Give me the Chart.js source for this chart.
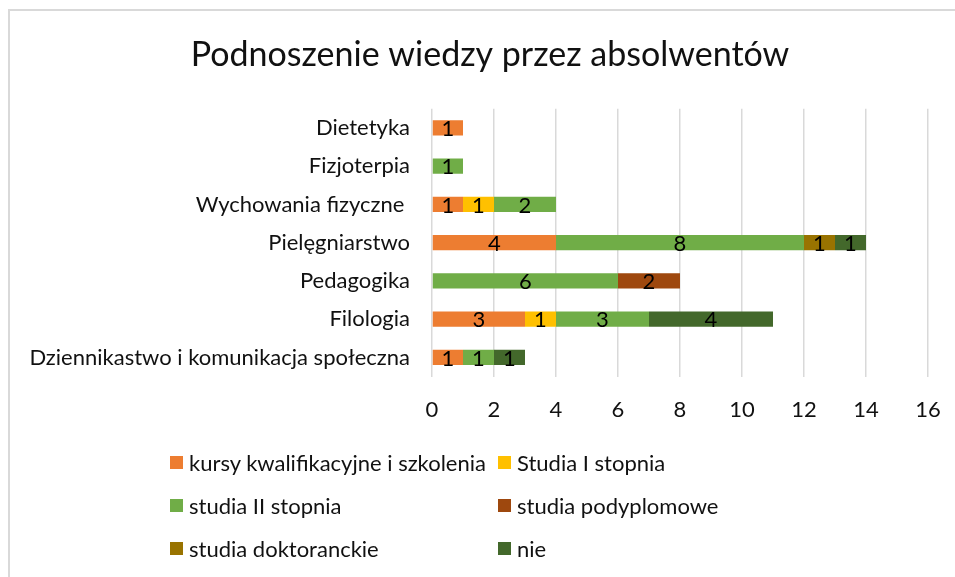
<!DOCTYPE html>
<html>
<head>
<meta charset="utf-8">
<script src="https://cdn.jsdelivr.net/npm/chart.js@4"></script>
<style>
  body { margin: 0; background: #fff; font-family: Lato, sans-serif; }
  #wrap { position: relative; width: 955px; height: 577px; }
  #frame { position: absolute; left: 8px; top: 9px; width: 960px; height: 580px;
           border-left: 2px solid #d9d9d9; border-top: 2px solid #d9d9d9; }
  #legend { position: absolute; left: 170px; top: 450px; width: 700px;
            display: grid; grid-template-columns: 328px auto; row-gap: 19px; }
  .item { display: flex; align-items: center; font-size: 22px; color: #111; height: 24px; white-space: nowrap; }
  .box { width: 13px; height: 13px; margin-right: 6px; }
</style>
</head>
<body>
<div id="wrap">
  <div id="frame"></div>
  <canvas id="chart" width="955" height="577"></canvas>
  <div id="legend"></div>
</div>
<script>
const kierunki = [
  "Dietetyka",
  "Fizjoterpia",
  "Wychowania fizyczne ",
  "Pielęgniarstwo",
  "Pedagogika",
  "Filologia",
  "Dziennikastwo i komunikacja społeczna"
];
const kursy = [1, 0, 1, 4, 0, 3, 1];
const studiaI = [0, 0, 1, 0, 0, 1, 0];
const studiaII = [0, 1, 2, 8, 6, 3, 1];
const podyplomowe = [0, 0, 0, 0, 2, 0, 0];
const doktoranckie = [0, 0, 0, 1, 0, 0, 0];
const nie = [0, 0, 0, 1, 0, 4, 1];
const serie = ["kursy kwalifikacyjne i szkolenia", "Studia I stopnia", "studia II stopnia",
  "studia podyplomowe", "studia doktoranckie", "nie"];
const kolory = ["#ED7D31", "#FFC000", "#70AD47", "#9E480E", "#997300", "#43682B"];
const wartosci = [kursy, studiaI, studiaII, podyplomowe, doktoranckie, nie];

// etykiety w środku słupków
const etykiety = {
  id: "etykiety",
  afterDatasetsDraw(chart) {
    const ctx = chart.ctx;
    ctx.save();
    ctx.font = "22px Lato, sans-serif";
    ctx.fillStyle = "#000";
    ctx.textAlign = "center";
    ctx.textBaseline = "middle";
    chart.data.datasets.forEach((ds, i) => {
      chart.getDatasetMeta(i).data.forEach((bar, j) => {
        const v = ds.data[j];
        if (!v) return;
        const p = bar.getCenterPoint();
        ctx.fillText(v, p.x, p.y + 1);
      });
    });
    ctx.restore();
  }
};

new Chart(document.getElementById("chart"), {
  type: "bar",
  data: {
    labels: kierunki,
    datasets: serie.map((s, i) => ({
      label: s,
      data: wartosci[i],
      backgroundColor: kolory[i],
      barPercentage: 0.4,
      categoryPercentage: 1
    }))
  },
  options: {
    indexAxis: "y",
    responsive: false,
    animation: false,
    layout: { padding: { left: 30, right: 5, top: 8, bottom: 134 } },
    plugins: {
      legend: { display: false },
      tooltip: { enabled: false },
      title: {
        display: true,
        text: "Podnoszenie wiedzy przez absolwentów",
        color: "#111",
        font: { family: "Lato", size: 34, weight: "normal" },
        padding: { top: 27, bottom: 33 }
      }
    },
    scales: {
      x: {
        stacked: true,
        min: 0, max: 16,
        afterFit(scale) { scale.paddingRight = 27; },
        ticks: { stepSize: 2, color: "#111", font: { family: "Lato", size: 22 }, padding: 20 },
        grid: { color: "#d9d9d9", lineWidth: 1.5, drawTicks: false },
        border: { display: false }
      },
      y: {
        stacked: true,
        afterFit(scale) { scale.width = 402; },
        ticks: { color: "#111", font: { family: "Lato", size: 22 }, padding: 22 },
        grid: { display: false, drawTicks: false },
        border: { display: false }
      }
    }
  },
  plugins: [etykiety]
});

const legend = document.getElementById("legend");
serie.forEach((s, i) => {
  const el = document.createElement("div");
  el.className = "item";
  el.innerHTML = `<span class="box" style="background:${kolory[i]}"></span>${s}`;
  legend.appendChild(el);
});
</script>
</body>
</html>
